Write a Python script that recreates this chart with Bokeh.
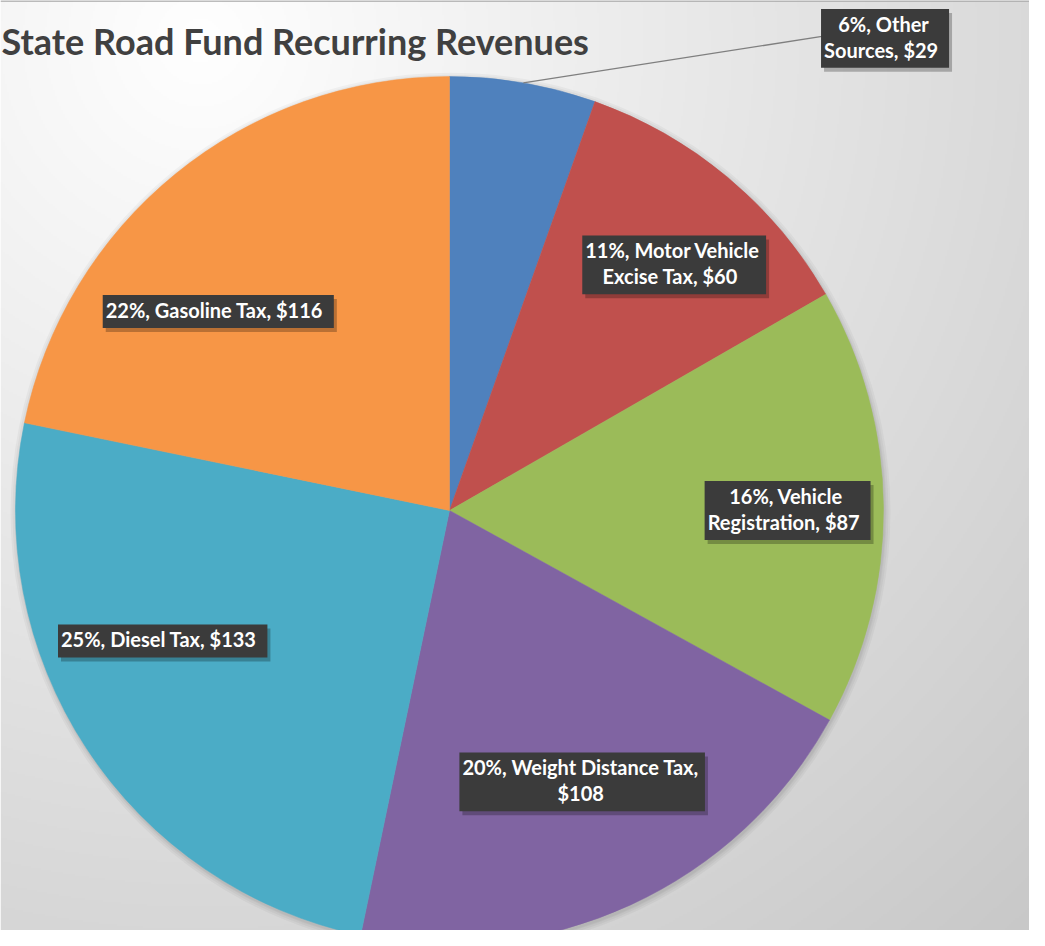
import numpy as np
from bokeh.plotting import figure
from bokeh.models import Range1d, ColumnDataSource
from bokeh.core.properties import value
from bokeh.embed import file_html
from bokeh.resources import INLINE

# ---------------- data ----------------
categories = ["Other Sources", "Motor Vehicle Excise Tax", "Vehicle Registration",
              "Weight Distance Tax", "Diesel Tax", "Gasoline Tax"]
amounts = [29, 60, 87, 108, 133, 116]
percents = ["6%", "11%", "16%", "20%", "25%", "22%"]
label_texts = ["6%, Other\nSources,  $29",
               "11%, Motor Vehicle\nExcise Tax,  $60",
               "16%, Vehicle\nRegistration,  $87",
               "20%, Weight Distance Tax,\n$108",
               "25%, Diesel Tax,  $133",
               "22%, Gasoline Tax,  $116"]
colors = ["#4F81BD", "#C0504D", "#9BBB59", "#8064A2", "#4BACC6", "#F79646"]
title = "State Road Fund Recurring Revenues"

# ---------------- layout ----------------
W, H = 1029, 930
cx, cy, R = 449, 420, 434
label_frac = [1.48, 0.767, 0.779, 0.696, 0.726, 0.703]
label_shift_deg = [32.9, 2.6, 0.5, -1.4, 8.8, -10.1]

vals = np.array(amounts, dtype=float)
frac = vals / vals.sum()
cum = np.concatenate([[0], np.cumsum(frac)])
start = np.pi / 2 - 2 * np.pi * cum[:-1]
end = np.pi / 2 - 2 * np.pi * cum[1:]
mid_deg = 360 * (cum[:-1] + cum[1:]) / 2  # clockwise from top

theta = np.radians(mid_deg + np.array(label_shift_deg))
lx = cx + np.array(label_frac) * R * np.sin(theta)
ly = cy + np.array(label_frac) * R * np.cos(theta)

wsrc = ColumnDataSource(dict(cat=categories, start=start, end=end, color=colors))
lsrc = ColumnDataSource(dict(x=lx, y=ly, text=label_texts,
                             sx=lx + 3, sy=ly - 4))

p = figure(width=W, height=H, x_range=Range1d(0, W), y_range=Range1d(0, H),
           output_backend="svg", toolbar_location=None, min_border=0,
           x_axis_location=None, y_axis_location=None)
p.grid.visible = False
p.outline_line_color = None
p.border_fill_color = "white"

# background gradient
xs = np.arange(0, W, 2) + 1
ys = np.arange(0, H, 2) + 1
X, Y = np.meshgrid(xs, ys)
rx, ry = X, 930 - Y
d = np.sqrt((rx - 200) ** 2 + (ry - 40) ** 2)
g = np.clip(255 - 0.045 * d, 195, 255).astype(np.uint8)
img = np.zeros(g.shape, dtype=np.uint32)
view = img.view(dtype=np.uint8).reshape(g.shape + (4,))
view[..., 0] = g
view[..., 1] = g
view[..., 2] = g
view[..., 3] = 255
p.image_rgba(image=[img], x=0, y=0, dw=W, dh=H)

# thin top border line
p.segment(x0=[0], y0=[H - 0.5], x1=[W], y1=[H - 0.5], line_color="#A6A6A6", line_width=1.5)

# soft pie shadow
for dr in [6, 4, 2, 1]:
    p.circle(x=cx + 1, y=cy - 2, radius=R + dr, fill_color="black",
             fill_alpha=0.035, line_color=None)

# pie
p.wedge(x=cx, y=cy, radius=R, start_angle="start", end_angle="end",
        direction="clock", fill_color="color", line_color="color",
        line_width=0.5, source=wsrc)

# leader line for first (outside) label
m0 = np.radians(mid_deg[0])
p.segment(x0=[cx + R * np.sin(m0)], y0=[cy + R * np.cos(m0)],
          x1=[lx[0] - 63], y1=[ly[0] + 2], line_color="#7F7F7F", line_width=1.3)

common = dict(text_font=value("Lato"), text_font_style="bold", text_font_size="20px",
              text_align="center", text_baseline="middle", text_line_height=1.08,
              padding=(3, 6, 3, 6))
# label shadows
p.text(x="sx", y="sy", text="text", source=lsrc, text_alpha=0,
       background_fill_color="black", background_fill_alpha=0.25, **common)
# labels
p.text(x="x", y="y", text="text", source=lsrc, text_color="white",
       background_fill_color="#3B3B3B", **common)

# title
p.text(x=[1], y=[890], text=[title], text_font=value("Lato"), text_font_style="bold",
       text_font_size="36px", text_color="#404040", text_align="left",
       text_baseline="alphabetic")

open("out.html", "w").write(file_html(p, INLINE))
